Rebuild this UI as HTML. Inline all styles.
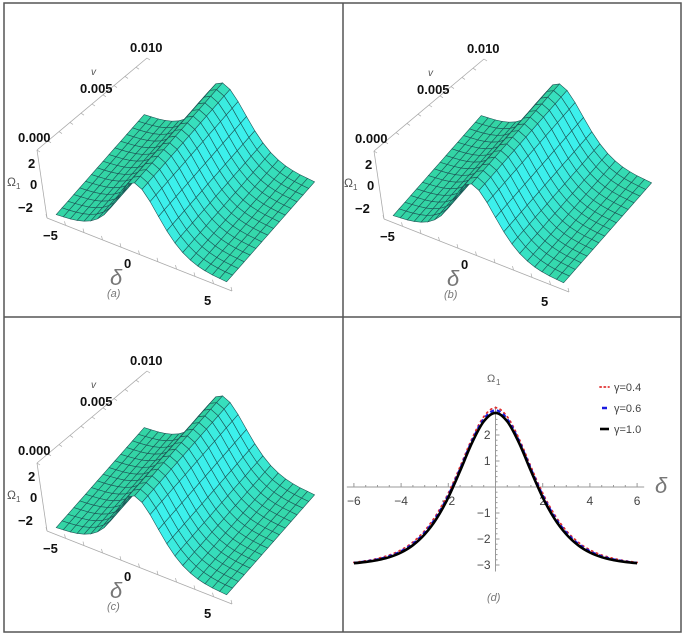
<!DOCTYPE html>
<html><head><meta charset="utf-8"><style>
body{margin:0;background:#fff}
svg{display:block}
text{font-family:"Liberation Sans",sans-serif}
</style></head><body>
<svg id="fig" width="685" height="635" viewBox="0 0 685 635">
<rect x="0" y="0" width="685" height="635" fill="#fff"/>
<g id="borders">
<rect x="4" y="3" width="677" height="629" fill="none" stroke="#555" stroke-width="1.5"/>
<line x1="343" y1="3" x2="343" y2="632" stroke="#555" stroke-width="1.5"/>
<line x1="4" y1="317" x2="681" y2="317" stroke="#555" stroke-width="1.5"/>
</g>
</svg>
<script>
const deltas=[-6,-5.5,-5,-4.5,-4,-3.5,-3,-2.5,-2,-1.5,-1,-0.5,0,0.5,1,1.5,2,2.5,3,3.5,4,4.5,5,5.5,6];
const omegaG10=[-2.93,-2.88,-2.81,-2.70,-2.52,-2.24,-1.82,-1.22,-0.40,0.62,1.69,2.52,2.85,2.52,1.69,0.62,-0.40,-1.22,-1.82,-2.24,-2.52,-2.70,-2.81,-2.88,-2.93];
const omegaG06=[-2.92,-2.86,-2.78,-2.66,-2.47,-2.18,-1.75,-1.14,-0.32,0.70,1.77,2.61,2.95,2.61,1.77,0.70,-0.32,-1.14,-1.75,-2.18,-2.47,-2.66,-2.78,-2.86,-2.92];
const omegaG04=[-2.90,-2.84,-2.75,-2.62,-2.42,-2.12,-1.68,-1.06,-0.24,0.78,1.85,2.70,3.05,2.70,1.85,0.78,-0.24,-1.06,-1.68,-2.12,-2.42,-2.62,-2.75,-2.84,-2.90];
const vValues=[0,0.000667,0.001333,0.002,0.002667,0.003333,0.004,0.004667,0.005333,0.006,0.006667,0.007333,0.008,0.008667,0.009333,0.01];
const xTicks=[-6,-4,-2,2,4,6];
const yTicks=[-3,-2,-1,1,2];
const legendLabels=["γ=0.4","γ=0.6","γ=1.0"];

const NS="http://www.w3.org/2000/svg";
const svg=document.getElementById('fig');
function mk(tag,attrs,parent){const e=document.createElementNS(NS,tag);for(const k in attrs)e.setAttribute(k,attrs[k]);(parent||svg).appendChild(e);return e;}
function txt(s,x,y,attrs,parent){const t=mk('text',Object.assign({x:x,y:y},attrs),parent);t.textContent=s;return t;}
function mix(a,b,t){return 'rgb('+a.map((v,i)=>Math.round(v+(b[i]-v)*t)).join(',')+')';}
const FLAT=[52,214,166],CYAN=[60,240,236],DARK=[40,190,145];

function panel3d(ox,oy,label,name){
  const g=mk('g',{});
  
  
  const P=(d,v,o)=>{const w=v/0.01;return [ox+141.5+d*14.2+w*88-(o+3)*1.2, oy+249+d*5.6-w*100-(o+3)*11.3];};
  const ax={stroke:'#aaa','stroke-width':0.8,fill:'none'};
  const l1=mk('line',Object.assign({x1:ox+37,y1:oy+150,x2:ox+147,y2:oy+58},ax),g);
  
  const l2=mk('line',Object.assign({x1:ox+37,y1:oy+150,x2:ox+47,y2:oy+218},ax),g);
  
  const l3=mk('line',Object.assign({x1:ox+47,y1:oy+218,x2:ox+232,y2:oy+291},ax),g);
  
  for(let i=0;i<=10;i++){const t=i/10;const x=ox+47+185*t,y=oy+218+73*t;mk('line',{x1:x,y1:y,x2:x-1,y2:y-4,stroke:'#aaa','stroke-width':0.7},g);}
  for(let i=0;i<=10;i++){const t=i/10;const x=ox+37+110*t,y=oy+150-92*t;mk('line',{x1:x,y1:y,x2:x+3,y2:y+2,stroke:'#aaa','stroke-width':0.7},g);}
  const sg=mk('g',{},g);
  
  
  for(let j=vValues.length-2;j>=0;j--){
    for(let i=0;i<deltas.length-1;i++){
      const s=(omegaG10[i+1]-omegaG10[i])/(deltas[i+1]-deltas[i]);
      const col=s<0?mix(FLAT,CYAN,Math.min(1,-s/2.0)):mix(FLAT,DARK,Math.min(1,s/2.2));
      const pts=[P(deltas[i],vValues[j],omegaG10[i]),P(deltas[i+1],vValues[j],omegaG10[i+1]),P(deltas[i+1],vValues[j+1],omegaG10[i+1]),P(deltas[i],vValues[j+1],omegaG10[i])];
      const q=mk('polygon',{points:pts.map(p=>p[0].toFixed(1)+','+p[1].toFixed(1)).join(' '),fill:col,stroke:'#1d5656','stroke-width':0.6},sg);
      
      
    }
  }
  const b={'font-weight':'bold','font-size':13,fill:'#111'};
  txt('0.010',ox+130,oy+52,b,g);
  txt('v',ox+91,oy+75,{'font-size':10,'font-style':'italic',fill:'#555'},g);
  txt('0.005',ox+80,oy+93,b,g);
  txt('0.000',ox+18,oy+142,b,g);
  txt('2',ox+28,oy+168,b,g);
  txt('0',ox+30,oy+189,b,g);
  txt('−2',ox+18,oy+212,b,g);
  txt('Ω',ox+7,oy+186,{'font-size':12,fill:'#555'},g);
  txt('1',ox+16,oy+189,{'font-size':8,fill:'#555'},g);
  txt('−5',ox+43,oy+240,b,g);
  txt('0',ox+124,oy+268,b,g);
  txt('5',ox+204,oy+305,b,g);
  txt('δ',ox+110,oy+285,{'font-size':22,'font-style':'italic',fill:'#777'},g);
  txt(label,ox+107,oy+297,{'font-size':11,'font-style':'italic',fill:'#777'},g);
}
panel3d(0,0,'(a)','panel-a-surface');
panel3d(337,1,'(b)','panel-b-surface');
panel3d(0,313,'(c)','panel-c-surface');

const X0=495.5,Y0=487,SX=23.6,SY=26;
const xs=v=>X0+v*SX, ys=v=>Y0-v*SY;
const gd=mk('g',{});


const xa=mk('line',{x1:xs(-6.3),y1:Y0,x2:xs(6.3),y2:Y0,stroke:'#999','stroke-width':1},gd);

const ya=mk('line',{x1:X0,y1:ys(-3.25),x2:X0,y2:ys(3.1),stroke:'#999','stroke-width':1},gd);

for(let v=-6;v<=6;v+=0.5){mk('line',{x1:xs(v),y1:Y0,x2:xs(v),y2:Y0-(v%2===0?4:2),stroke:'#999'},gd);}
for(let v=-3;v<=2.8;v+=0.2){const r=Math.round(v*10)/10;mk('line',{x1:X0,y1:ys(r),x2:X0+(Number.isInteger(r)?4:2),y2:ys(r),stroke:'#999'},gd);}
xTicks.forEach(v=>{const t=txt(v<0?'−'+(-v):''+v,xs(v),Y0+18,{'font-size':12,fill:'#444','text-anchor':'middle'},gd);});
yTicks.forEach(v=>{const t=txt(v<0?'−'+(-v):''+v,X0-5,ys(v)+4,{'font-size':12,fill:'#444','text-anchor':'end'},gd);});
const yt=txt('Ω',487,382,{'font-size':11,fill:'#666'},gd);

txt('1',496,385,{'font-size':8,fill:'#666'},gd);
const xt=txt('δ',655,493,{'font-size':22,'font-style':'italic',fill:'#777'},gd);

txt('(d)',487,601,{'font-size':11,'font-style':'italic',fill:'#777'},gd);
function line(vals,attrs,name){
  const p=vals.map((v,i)=>[xs(deltas[i]),ys(v)]);
  let d='M'+p[0][0].toFixed(1)+','+p[0][1].toFixed(1);
  for(let i=0;i<p.length-1;i++){
    const p0=p[Math.max(0,i-1)],p1=p[i],p2=p[i+1],p3=p[Math.min(p.length-1,i+2)];
    const c1=[p1[0]+(p2[0]-p0[0])/6,p1[1]+(p2[1]-p0[1])/6],c2=[p2[0]-(p3[0]-p1[0])/6,p2[1]-(p3[1]-p1[1])/6];
    d+=' C'+c1.map(n=>n.toFixed(1)).join(',')+' '+c2.map(n=>n.toFixed(1)).join(',')+' '+p2.map(n=>n.toFixed(1)).join(',');
  }
  const el=mk('path',Object.assign({d:d,fill:'none','stroke-linejoin':'round'},attrs),gd);
  
  
}
line(omegaG04,{stroke:'#e03030','stroke-width':1.8,'stroke-dasharray':'1.2 4','stroke-linecap':'round'},'series-gamma-0-4');
line(omegaG06,{stroke:'#1a1ae0','stroke-width':2.2,'stroke-dasharray':'4 3'},'series-gamma-0-6');
line(omegaG10,{stroke:'#000','stroke-width':2.6},'series-gamma-1-0');
const lg=mk('g',{},gd);


const lstyles=[{stroke:'#e03030','stroke-width':1.8,'stroke-dasharray':'1.2 3','stroke-linecap':'round'},{stroke:'#1a1ae0','stroke-width':2.5},{stroke:'#000','stroke-width':2.6}];
const lw=[[600,609],[602,607],[600,609]];
legendLabels.forEach((s,i)=>{
  const y=387+i*21;
  const e=mk('g',{},lg);
  
  
  mk('line',Object.assign({x1:lw[i][0],y1:y,x2:lw[i][1],y2:y},lstyles[i]),e);
  txt(s,614,y+4,{'font-size':11,fill:'#444'},e);
});
</script>
</body></html>
